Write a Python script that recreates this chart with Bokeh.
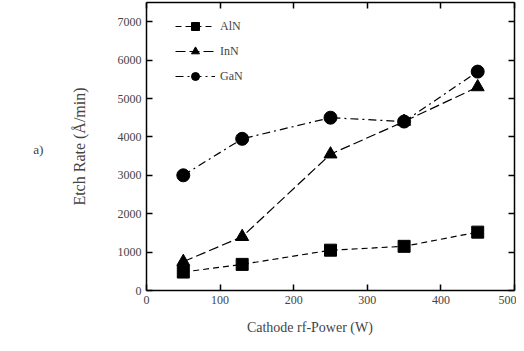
from bokeh.plotting import figure
from bokeh.models import Range1d, LinearAxis, FixedTicker, Legend, LegendItem, CustomJSTickFormatter
from bokeh.embed import file_html
from bokeh.resources import INLINE

power = [50, 130, 250, 350, 450]
aln = [480, 680, 1050, 1150, 1520]
inn = [750, 1400, 3550, 4400, 5300]
gan = [3000, 3950, 4500, 4400, 5700]
x_ticks = [0, 100, 200, 300, 400, 500]
y_ticks = [0, 1000, 2000, 3000, 4000, 5000, 6000, 7000]
panel_tag = "a)"
x_title = "Cathode rf-Power (W)"
y_title = "Etch Rate (Å/min)"

FONT = "Liberation Serif"

p = figure(width=516, height=343, output_backend="svg", toolbar_location=None,
           x_range=Range1d(0, 500), y_range=Range1d(0, 7500),
           min_border_left=146, min_border_right=2, min_border_top=2, min_border_bottom=53)
p.grid.visible = False
p.outline_line_color = None

for ax in (p.xaxis[0], p.yaxis[0]):
    ax.major_tick_in = 6
    ax.major_tick_out = 0
    ax.minor_tick_in = 0
    ax.minor_tick_out = 0
    ax.axis_line_width = 1.5
    ax.major_tick_line_width = 1.5
    ax.major_label_text_font = FONT
    ax.major_label_text_font_size = "9pt"

p.xaxis.ticker = FixedTicker(ticks=x_ticks)
p.yaxis.ticker = FixedTicker(ticks=y_ticks)
p.yaxis.axis_label = y_title
p.yaxis.axis_label_text_font = FONT
p.yaxis.axis_label_text_font_style = "normal"
p.yaxis.axis_label_text_font_size = "12pt"
p.yaxis.axis_label_standoff = 27

blank = CustomJSTickFormatter(code="return '';")
top = LinearAxis(ticker=FixedTicker(ticks=x_ticks), formatter=blank, major_label_standoff=0,
                 major_tick_in=6, major_tick_out=0, minor_tick_in=0, minor_tick_out=0,
                 axis_line_width=1.5, major_tick_line_width=1.5)
right = LinearAxis(ticker=FixedTicker(ticks=y_ticks), formatter=blank, major_label_standoff=0,
                   major_tick_in=6, major_tick_out=0, minor_tick_in=0, minor_tick_out=0,
                   axis_line_width=1.5, major_tick_line_width=1.5)
p.add_layout(top, "above")
p.add_layout(right, "right")

# outer text carriers (tick labels placed outside the frame)
tag_axis = LinearAxis(ticker=FixedTicker(ticks=[3670]), major_label_overrides={3670: panel_tag},
                      axis_line_color=None, major_tick_line_color=None, minor_tick_line_color=None,
                      major_label_standoff=18, major_label_text_font=FONT,
                      major_label_text_font_size="10pt")
p.add_layout(tag_axis, "left")
xt_axis = LinearAxis(ticker=FixedTicker(ticks=[222]), major_label_overrides={222: x_title},
                     axis_line_color=None, major_tick_line_color=None, minor_tick_line_color=None,
                     major_label_standoff=7, major_label_text_font=FONT,
                     major_label_text_font_size="10.5pt")
p.add_layout(xt_axis, "below")

l1 = p.line(power, aln, line_color="black", line_dash="6 4", line_width=1.2)
m1 = p.scatter(power, aln, marker="square", size=12, color="black")
l2 = p.line(power, inn, line_color="black", line_dash="10 4", line_width=1.2)
m2 = p.scatter(power, inn, marker="triangle", size=13, color="black")
l3 = p.line(power, gan, line_color="black", line_dash="8 4 2 4", line_width=1.2)
m3 = p.scatter(power, gan, marker="circle", size=13, color="black")

legend = Legend(items=[LegendItem(label="AlN", renderers=[l1, m1]),
                       LegendItem(label="InN", renderers=[l2, m2]),
                       LegendItem(label="GaN", renderers=[l3, m3])],
                location=(29, 204), border_line_color=None, background_fill_alpha=0,
                label_text_font=FONT, label_text_font_size="9pt",
                glyph_width=40, glyph_height=20, label_height=20, spacing=5,
                margin=0, padding=0)
p.add_layout(legend)

open("out.html", "w").write(file_html(p, INLINE))
